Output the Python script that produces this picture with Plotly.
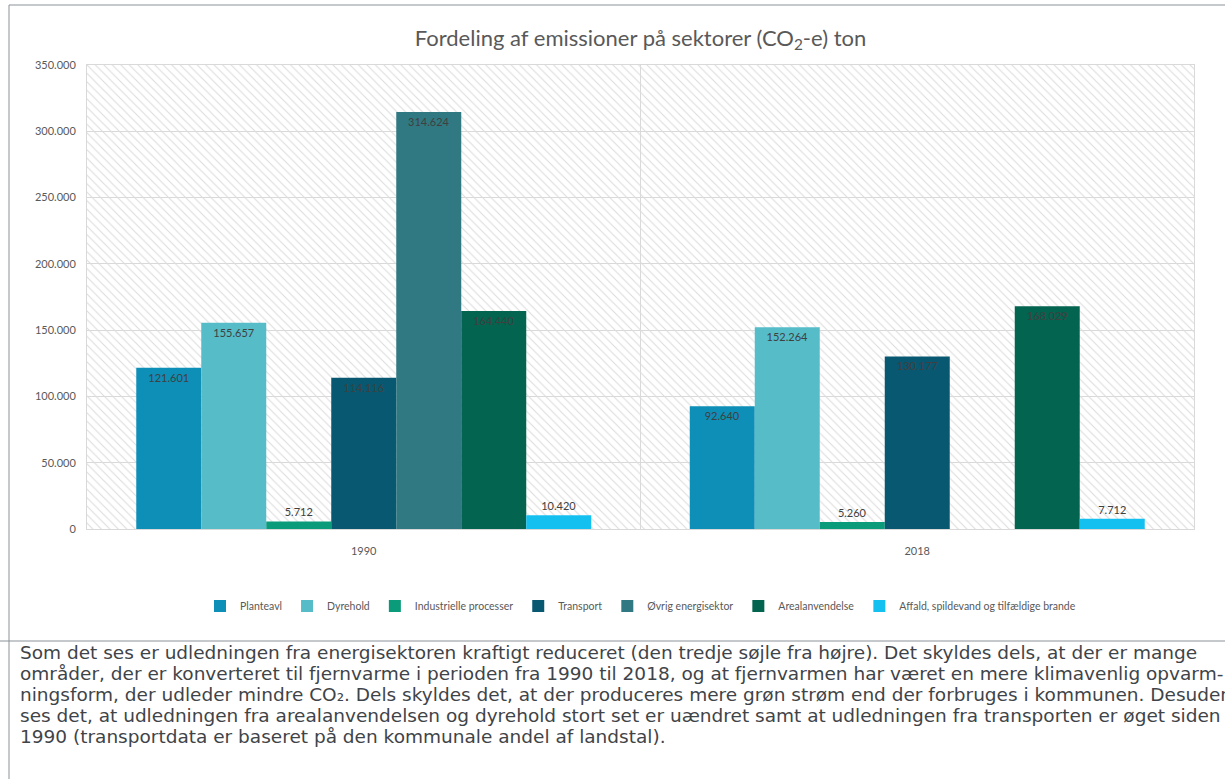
import plotly.graph_objects as go

# ---------------- data ----------------
years = ["1990", "2018"]
sectors = ["Planteavl", "Dyrehold", "Industrielle processer", "Transport",
           "Øvrig energisektor", "Arealanvendelse",
           "Affald, spildevand og tilfældige brande"]
planteavl = [121601, 92640]
dyrehold = [155657, 152264]
industri = [5712, 5260]
transport = [114116, 130177]
oevrig = [314624, None]
areal = [164440, 168029]
affald = [10420, 7712]
series_values = [planteavl, dyrehold, industri, transport, oevrig, areal, affald]
colors = ["#0E8FB7", "#55BCC8", "#0A9B7A", "#095872", "#317982", "#036550", "#14C0F0"]
y_ticks = [0, 50000, 100000, 150000, 200000, 250000, 300000, 350000]
Y_MAX = 350000

title_text = "Fordeling af emissioner på sektorer (CO<sub>2</sub>-e) ton"
paragraph = [
    "Som det ses er udledningen fra energisektoren kraftigt reduceret (den tredje søjle fra højre). Det skyldes dels, at der er mange",
    "områder, der er konverteret til fjernvarme i perioden fra 1990 til 2018, og at fjernvarmen har været en mere klimavenlig opvarm-",
    "ningsform, der udleder mindre CO₂. Dels skyldes det, at der produceres mere grøn strøm end der forbruges i kommunen. Desuden",
    "ses det, at udledningen fra arealanvendelsen og dyrehold stort set er uændret samt at udledningen fra transporten er øget siden",
    "1990 (transportdata er baseret på den kommunale andel af landstal).",
]

# ---------------- layout geometry ----------------
W, H = 1225, 779
ML, MR, MT, MB = 87, 31, 65, 250
PW, PH = W - ML - MR, H - MT - MB


def px_x(px):
    return (px - ML) / PW


def px_y(py):
    return (H - MB - py) / PH


CHART_FONT = "Lato, 'Open Sans', sans-serif"
GREY = "#595959"
LINE = "#d9d9d9"

fig = go.Figure()

# hatched plot background (decoration) on base axis
fig.add_trace(go.Bar(
    x=[0.5], y=[Y_MAX], width=[1], xaxis="x", yaxis="y",
    marker=dict(color="rgba(0,0,0,0)", line=dict(width=0),
                pattern=dict(shape="\\", fgcolor="#dcdcdc", bgcolor="rgba(0,0,0,0)",
                             size=6, solidity=0.18, fillmode="replace")),
    showlegend=False, hoverinfo="skip",
))

for name, vals, col in zip(sectors, series_values, colors):
    fig.add_trace(go.Bar(
        x=years, y=vals, name=name, xaxis="x2", yaxis="y",
        marker=dict(color=col, line=dict(width=0)),
        texttemplate="%{y:,.0f}", textposition="auto", insidetextanchor="end",
        textangle=0, constraintext="none",
        insidetextfont=dict(family=CHART_FONT, size=11, color="#404040"),
        outsidetextfont=dict(family=CHART_FONT, size=11, color="#404040"),
        cliponaxis=False,
    ))

shapes = [
    dict(type="line", xref="paper", yref="paper", x0=px_x(9), x1=px_x(9),
         y0=px_y(5), y1=px_y(H + 5), line=dict(color="#8c9299", width=1)),
    dict(type="line", xref="paper", yref="paper", x0=px_x(9), x1=px_x(W + 5),
         y0=px_y(5), y1=px_y(5), line=dict(color="#8c9299", width=1)),
    dict(type="line", xref="paper", yref="paper", x0=px_x(-2), x1=px_x(W + 5),
         y0=px_y(641), y1=px_y(641), line=dict(color="#8c9299", width=1)),
]

annotations = []
for i, line in enumerate(paragraph):
    annotations.append(dict(
        text=line, xref="paper", yref="paper", x=px_x(18), y=px_y(652 + 21 * i),
        xanchor="left", yanchor="middle", showarrow=False, align="left",
        font=dict(family="'DejaVu Sans', sans-serif", size=18.5, color="#3f4448"),
    ))

fig.update_layout(
    width=W, height=H,
    margin=dict(l=ML, r=MR, t=MT, b=MB),
    paper_bgcolor="white", plot_bgcolor="white",
    separators=",.",
    barmode="group", bargap=0.178, bargroupgap=0,
    title=dict(text=title_text, x=0.5, xref="paper", xanchor="center",
               y=1 - 38 / H, yref="container", yanchor="middle",
               font=dict(family=CHART_FONT, size=22, color=GREY)),
    xaxis=dict(range=[0, 1], visible=False, showgrid=False, fixedrange=True),
    xaxis2=dict(overlaying="x", anchor="y", side="bottom", type="category",
                tickson="boundaries", showgrid=True, gridcolor=LINE, gridwidth=1,
                showline=True, mirror=True, linecolor=LINE, linewidth=1,
                ticks="", ticklabelstandoff=12,
                tickfont=dict(family=CHART_FONT, size=11, color=GREY)),
    yaxis=dict(range=[0, Y_MAX], tickvals=y_ticks, tickformat=",.0f",
               showgrid=True, gridcolor=LINE, gridwidth=1, zeroline=False,
               showline=True, mirror=True, linecolor=LINE, linewidth=1,
               ticks="", ticklabelstandoff=8,
               tickfont=dict(family=CHART_FONT, size=11, color=GREY)),
    legend=dict(orientation="h", x=0.5, xanchor="center", y=px_y(606), yanchor="middle",
                font=dict(family=CHART_FONT, size=10.5, color=GREY),
                itemwidth=30, traceorder="normal", bgcolor="rgba(0,0,0,0)"),
    shapes=shapes, annotations=annotations,
)

fig.write_html("out.html", config={"displayModeBar": False},
               post_script="document.body.style.margin='0';")
